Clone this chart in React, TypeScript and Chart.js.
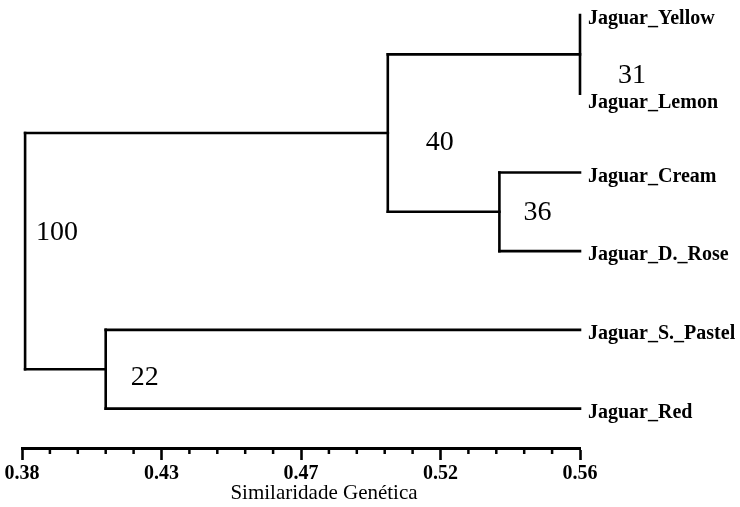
import { useEffect, useRef } from 'react';
import { Chart, registerables } from 'chart.js';

Chart.register(...registerables);

// ---- data ----
const leafNames = ['Jaguar_Yellow', 'Jaguar_Lemon', 'Jaguar_Cream', 'Jaguar_D._Rose', 'Jaguar_S._Pastel', 'Jaguar_Red'];
const leafSimilarity = [0.56, 0.56, 0.56, 0.56, 0.56, 0.56];
// internal nodes (children listed before parents)
const nodeSimilarity = [0.56, 0.534, 0.498, 0.407, 0.381];
const nodeSupport = [31, 36, 40, 22, 100];
const nodeLeftChild = ['L0', 'L2', 'N0', 'L4', 'N2'];
const nodeRightChild = ['L1', 'L3', 'N1', 'L5', 'N3'];
const tickLabels = ['0.38', '0.43', '0.47', '0.52', '0.56'];
const axisMin = 0.38;
const axisMax = 0.56;
const minorPerMajor = 5;
const axisTitle = 'Similaridade Genética';

// ---- styles (pixel offsets for annotation text) ----
const supportOffsets = [[38, 21], [24, 1], [38, 10], [25, 8], [11, -19]];
const leafLabelOffsets = [4, 9, 4, 4, 4, 4];
const FONT = '"Liberation Serif", "Times New Roman", serif';

function buildTree() {
  const nodeY: number[] = [];
  const getPos = (ref: string) => {
    const i = parseInt(ref.slice(1), 10);
    if (ref[0] === 'L') return { x: leafSimilarity[i], y: i };
    return { x: nodeSimilarity[i], y: nodeY[i] };
  };
  const segments: { x: number; y: number }[][] = [];
  nodeSimilarity.forEach((sim, k) => {
    const a = getPos(nodeLeftChild[k]);
    const b = getPos(nodeRightChild[k]);
    nodeY[k] = (a.y + b.y) / 2;
    segments.push([{ x: sim, y: a.y }, { x: sim, y: b.y }]);
    if (a.x !== sim) segments.push([{ x: sim, y: a.y }, { x: a.x, y: a.y }]);
    if (b.x !== sim) segments.push([{ x: sim, y: b.y }, { x: b.x, y: b.y }]);
  });
  return { nodeY, segments };
}

export default function App() {
  const ref = useRef<HTMLCanvasElement | null>(null);
  useEffect(() => {
    if (!ref.current) return;
    const { nodeY, segments } = buildTree();
    const totalTicks = (tickLabels.length - 1) * minorPerMajor + 1;

    const annot = {
      id: 'dendroAnnot',
      afterDatasetsDraw(chart: any) {
        const ctx = chart.ctx;
        const xs = chart.scales.x;
        const ys = chart.scales.y;
        ctx.save();
        ctx.fillStyle = '#000';
        // leaf labels
        ctx.font = `bold 20px ${FONT}`;
        ctx.textAlign = 'left';
        ctx.textBaseline = 'middle';
        leafNames.forEach((name, i) => {
          const px = xs.getPixelForValue(leafSimilarity[i]) + 8;
          const py = ys.getPixelForValue(i) + leafLabelOffsets[i];
          ctx.fillText(name, px, py);
        });
        // support values
        ctx.font = `28px ${FONT}`;
        nodeSupport.forEach((v, k) => {
          const px = xs.getPixelForValue(nodeSimilarity[k]) + supportOffsets[k][0];
          const py = ys.getPixelForValue(nodeY[k]) + supportOffsets[k][1];
          ctx.fillText(String(v), px, py);
        });
        // minor ticks
        ctx.strokeStyle = '#000';
        ctx.lineWidth = 2.5;
        xs.ticks.forEach((t: any, i: number) => {
          if (i % minorPerMajor === 0) return;
          const px = xs.getPixelForValue(t.value);
          ctx.beginPath();
          ctx.moveTo(px, xs.top);
          ctx.lineTo(px, xs.top + 6);
          ctx.stroke();
        });
        // axis title
        ctx.font = `21px ${FONT}`;
        ctx.textAlign = 'center';
        ctx.fillText(axisTitle, (chart.chartArea.left + chart.chartArea.right) / 2 + 23, chart.height - 14);
        ctx.restore();
      },
    };

    const chart = new Chart(ref.current, {
      type: 'scatter',
      data: {
        datasets: segments.map((seg) => ({
          data: seg,
          showLine: true,
          clip: false,
          borderColor: '#000',
          borderWidth: 2.6,
          borderCapStyle: 'square',
          borderJoinStyle: 'miter',
          pointRadius: 0,
          pointHoverRadius: 0,
          fill: false,
        })),
      },
      options: {
        animation: false,
        responsive: true,
        maintainAspectRatio: false,
        layout: { padding: { left: 22, right: 160, top: 0, bottom: 19 } },
        plugins: { legend: { display: false }, tooltip: { enabled: false } },
        scales: {
          x: {
            type: 'linear',
            position: 'bottom',
            min: axisMin,
            max: axisMax,
            afterBuildTicks: (scale: any) => {
              scale.ticks = Array.from({ length: totalTicks }, (_, i) => ({
                value: axisMin + ((axisMax - axisMin) * i) / (totalTicks - 1),
              }));
            },
            ticks: {
              autoSkip: false,
              maxRotation: 0,
              minRotation: 0,
              padding: 2,
              color: '#000',
              font: { family: FONT, size: 20, weight: 'bold' },
              callback: (_v: any, i: number) => (i % minorPerMajor === 0 ? tickLabels[i / minorPerMajor] : ''),
            },
            grid: {
              display: true,
              drawOnChartArea: false,
              drawTicks: true,
              tickLength: 12,
              tickWidth: 2.6,
              tickColor: (c: any) => (c.index % minorPerMajor === 0 ? '#000' : 'rgba(0,0,0,0)'),
            },
            border: { display: true, color: '#000', width: 3 },
          },
          y: {
            type: 'linear',
            display: false,
            reverse: true,
            min: -0.19,
            max: 5.5,
          },
        },
      },
      plugins: [annot],
    } as any);
    return () => chart.destroy();
  }, []);

  return (
    <div style={{ position: 'fixed', left: 0, top: 0, width: 740, height: 507, background: '#fff' }}>
      <canvas ref={ref} />
    </div>
  );
}
